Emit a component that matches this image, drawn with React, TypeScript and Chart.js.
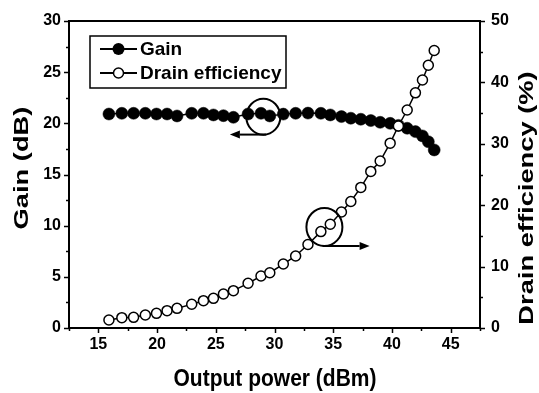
import React, { useEffect, useRef } from "react";
import { Chart, registerables } from "chart.js";

Chart.register(...registerables);

// ---- data ----
const outputPower = [
  15.9, 17.0, 18.0, 19.0, 19.95, 20.85, 21.7, 22.95, 23.95, 24.8, 25.65, 26.5,
  27.75, 28.85, 29.6, 30.75, 31.8, 32.85, 33.95, 34.75, 35.7, 36.5, 37.35, 38.2,
  39.0, 39.85, 40.55, 41.3, 42.0, 42.6, 43.1, 43.6,
];
const gainDb = [
  20.91, 20.98, 20.98, 20.98, 20.91, 20.91, 20.72, 20.98, 20.98, 20.82, 20.75, 20.59,
  20.91, 20.98, 20.72, 20.9, 20.98, 21.0, 20.98, 20.82, 20.66, 20.5, 20.4, 20.27,
  20.1, 20.0, 19.8, 19.52, 19.19, 18.77, 18.2, 17.4,
];
const drainEff = [
  1.3, 1.68, 1.74, 2.12, 2.39, 2.82, 3.2, 3.86, 4.45, 4.83, 5.54, 6.08,
  7.28, 8.47, 9.0, 10.42, 11.73, 13.6, 15.7, 16.9, 18.9, 20.6, 22.9, 25.5,
  27.2, 30.1, 32.9, 35.5, 38.3, 40.4, 42.8, 45.2,
];

const xMin = 12.5;
const xMax = 47.5;
const xMajorTicks = [15, 20, 25, 30, 35, 40, 45];
const xMinorStep = 2.5;
const gainMin = 0;
const gainMax = 30;
const gainMajorTicks = [0, 5, 10, 15, 20, 25, 30];
const gainMinorStep = 2.5;
const effMin = 0;
const effMax = 50;
const effMajorTicks = [0, 10, 20, 30, 40, 50];
const effMinorStep = 5;

const seriesNames = ["Gain", "Drain efficiency"];
const xTitle = "Output power (dBm)";
const gainTitle = "Gain (dB)";
const effTitle = "Drain efficiency (%)";

// annotation anchors in data units
const gainCircle = { x: 29.05, y: 20.65 };
const gainArrow = { from: 29.3, to: 26.2, y: 18.9 };
const effCircle = { x: 34.25, y: 16.45 };
const effArrow = { from: 34.1, to: 38.1, y: 13.35 };

const FONT = "'Liberation Sans', Arial, Helvetica, sans-serif";

function stretchedText(
  ctx: CanvasRenderingContext2D,
  text: string,
  x: number,
  y: number,
  rot: number,
  sx: number,
  sy: number,
  size: number
) {
  ctx.save();
  ctx.translate(x, y);
  ctx.rotate(rot);
  ctx.scale(sx, sy);
  ctx.font = `bold ${size}px ${FONT}`;
  ctx.fillStyle = "#000";
  ctx.textAlign = "center";
  ctx.textBaseline = "middle";
  ctx.fillText(text, 0, 0);
  ctx.restore();
}

function arrow(ctx: CanvasRenderingContext2D, x1: number, y: number, x2: number) {
  const dir = Math.sign(x2 - x1);
  const head = 10;
  ctx.beginPath();
  ctx.moveTo(x1, y);
  ctx.lineTo(x2 - dir * head, y);
  ctx.stroke();
  ctx.beginPath();
  ctx.moveTo(x2, y);
  ctx.lineTo(x2 - dir * head, y - 4);
  ctx.lineTo(x2 - dir * head, y + 4);
  ctx.closePath();
  ctx.fill();
}

const decorPlugin = {
  id: "decor",
  afterDatasetsDraw(chart: any) {
    const ctx: CanvasRenderingContext2D = chart.ctx;
    const xs = chart.scales.x;
    const ys = chart.scales.y;
    const y2 = chart.scales.y2;
    ctx.save();
    ctx.strokeStyle = "#000";
    ctx.fillStyle = "#000";
    ctx.lineWidth = 2;
    // annotation 1 (gain -> left axis)
    ctx.beginPath();
    ctx.ellipse(xs.getPixelForValue(gainCircle.x), ys.getPixelForValue(gainCircle.y), 17, 18, 0, 0, Math.PI * 2);
    ctx.stroke();
    arrow(ctx, xs.getPixelForValue(gainArrow.from), ys.getPixelForValue(gainArrow.y), xs.getPixelForValue(gainArrow.to));
    // annotation 2 (efficiency -> right axis)
    ctx.beginPath();
    ctx.ellipse(xs.getPixelForValue(effCircle.x), y2.getPixelForValue(effCircle.y), 18, 19, 0, 0, Math.PI * 2);
    ctx.stroke();
    arrow(ctx, xs.getPixelForValue(effArrow.from), y2.getPixelForValue(effArrow.y), xs.getPixelForValue(effArrow.to));
    ctx.restore();
  },
  afterDraw(chart: any) {
    const ctx: CanvasRenderingContext2D = chart.ctx;
    const { left, right, top, bottom } = chart.chartArea;
    const xs = chart.scales.x;
    const ys = chart.scales.y;
    const y2 = chart.scales.y2;
    ctx.save();
    ctx.strokeStyle = "#000";
    ctx.lineWidth = 2;
    ctx.strokeRect(left, top, right - left, bottom - top);
    ctx.lineWidth = 1.5;
    // x ticks
    for (let v = xMin; v <= xMax + 1e-6; v += xMinorStep) {
      const major = xMajorTicks.some((m) => Math.abs(m - v) < 1e-6);
      const px = Math.round(xs.getPixelForValue(v)) + 0.5;
      ctx.beginPath();
      ctx.moveTo(px, bottom);
      ctx.lineTo(px, bottom + (major ? 5 : 3));
      ctx.stroke();
    }
    for (let v = gainMin; v <= gainMax + 1e-6; v += gainMinorStep) {
      const major = gainMajorTicks.some((m) => Math.abs(m - v) < 1e-6);
      const py = Math.round(ys.getPixelForValue(v)) + 0.5;
      ctx.beginPath();
      ctx.moveTo(left, py);
      ctx.lineTo(left - (major ? 5 : 3), py);
      ctx.stroke();
    }
    for (let v = effMin; v <= effMax + 1e-6; v += effMinorStep) {
      const major = effMajorTicks.some((m) => Math.abs(m - v) < 1e-6);
      const py = Math.round(y2.getPixelForValue(v)) + 0.5;
      ctx.beginPath();
      ctx.moveTo(right, py);
      ctx.lineTo(right + (major ? 5 : 3), py);
      ctx.stroke();
    }

    // legend
    const lx = 90, ly = 36, lw = 196, lh = 52;
    ctx.lineWidth = 1.5;
    ctx.strokeRect(lx, ly, lw, lh);
    const rows = [49, 73];
    ctx.font = `bold 19px ${FONT}`;
    ctx.textAlign = "left";
    ctx.textBaseline = "middle";
    rows.forEach((ry, i) => {
      ctx.lineWidth = 2;
      ctx.beginPath();
      ctx.moveTo(100, ry);
      ctx.lineTo(137, ry);
      ctx.stroke();
      ctx.beginPath();
      if (i === 0) {
        ctx.arc(118.5, ry, 6, 0, Math.PI * 2);
        ctx.fillStyle = "#000";
        ctx.fill();
      } else {
        ctx.arc(118.5, ry, 5, 0, Math.PI * 2);
        ctx.fillStyle = "#fff";
        ctx.fill();
        ctx.lineWidth = 1.5;
        ctx.stroke();
      }
      ctx.fillStyle = "#000";
      ctx.fillText(seriesNames[i], 140, ry + 1);
    });

    // axis titles
    stretchedText(ctx, gainTitle, 22, 168, -Math.PI / 2, 1.3, 1, 21);
    stretchedText(ctx, effTitle, 527, 198, -Math.PI / 2, 1.3, 1, 21);
    stretchedText(ctx, xTitle, 275, 379, 0, 1, 1.15, 21);
    ctx.restore();
  },
};

export default function App() {
  const ref = useRef<HTMLCanvasElement | null>(null);

  useEffect(() => {
    document.body.style.margin = "0";
    const canvas = ref.current;
    if (!canvas) return;
    const tickFont = { family: FONT, size: 16, weight: "bold" as const };
    const chart = new Chart(canvas, {
      type: "line",
      data: {
        datasets: [
          {
            label: seriesNames[0],
            data: outputPower.map((x, i) => ({ x, y: gainDb[i] })),
            yAxisID: "y",
            borderColor: "#000",
            borderWidth: 1.5,
            backgroundColor: "#000",
            pointBackgroundColor: "#000",
            pointBorderColor: "#000",
            pointBorderWidth: 0.5,
            pointRadius: 6,
            pointHoverRadius: 6,
            tension: 0,
            order: 1,
          },
          {
            label: seriesNames[1],
            data: outputPower.map((x, i) => ({ x, y: drainEff[i] })),
            yAxisID: "y2",
            borderColor: "#000",
            borderWidth: 1.5,
            backgroundColor: "#fff",
            pointBackgroundColor: "#fff",
            pointBorderColor: "#000",
            pointBorderWidth: 1.5,
            pointRadius: 5,
            pointHoverRadius: 5,
            tension: 0,
            order: 0,
          },
        ],
      },
      options: {
        responsive: false,
        maintainAspectRatio: false,
        animation: false,
        devicePixelRatio: 1,
        layout: { padding: { top: 21, left: 0, right: 0, bottom: 0 } },
        plugins: { legend: { display: false }, tooltip: { enabled: false } },
        scales: {
          x: {
            type: "linear",
            position: "bottom",
            min: xMin,
            max: xMax,
            afterBuildTicks: (s: any) => {
              s.ticks = xMajorTicks.map((v) => ({ value: v }));
            },
            afterFit: (s: any) => {
              s.height = 65;
            },
            ticks: { font: tickFont, color: "#000", padding: 7, autoSkip: false, maxRotation: 0 },
            grid: { display: false, drawTicks: false },
            border: { display: false },
          },
          y: {
            type: "linear",
            position: "left",
            min: gainMin,
            max: gainMax,
            afterBuildTicks: (s: any) => {
              s.ticks = gainMajorTicks.map((v) => ({ value: v }));
            },
            afterFit: (s: any) => {
              s.width = 69;
            },
            ticks: { font: tickFont, color: "#000", padding: 8 },
            grid: { display: false, drawTicks: false },
            border: { display: false },
          },
          y2: {
            type: "linear",
            position: "right",
            min: effMin,
            max: effMax,
            afterBuildTicks: (s: any) => {
              s.ticks = effMajorTicks.map((v) => ({ value: v }));
            },
            afterFit: (s: any) => {
              s.width = 59;
            },
            ticks: { font: tickFont, color: "#000", padding: 11 },
            grid: { display: false, drawTicks: false },
            border: { display: false },
          },
        },
      },
      plugins: [decorPlugin],
    });
    return () => chart.destroy();
  }, []);

  return (
    <div style={{ width: 539, height: 393, background: "#fff" }}>
      <canvas ref={ref} width={539} height={393} style={{ display: "block" }} />
    </div>
  );
}
